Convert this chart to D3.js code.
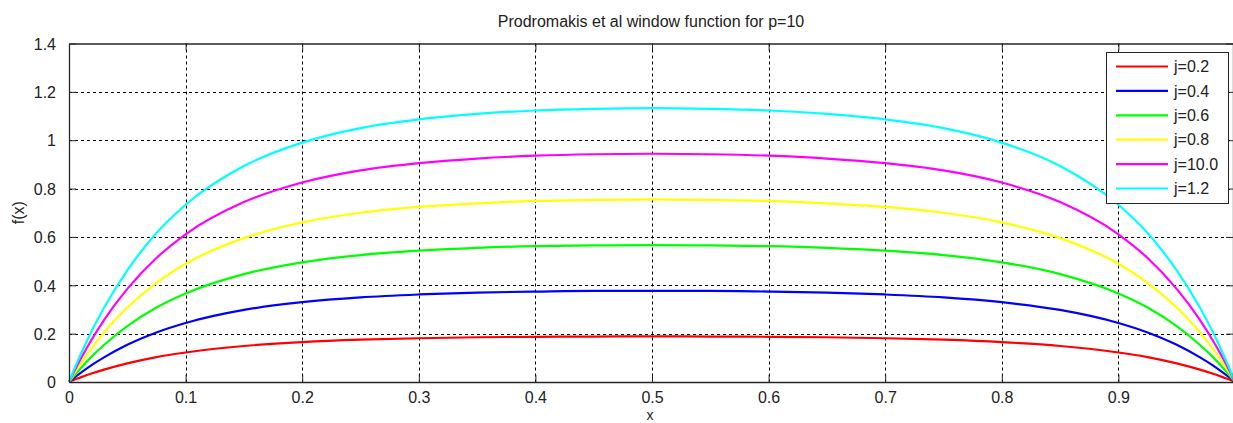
<!DOCTYPE html>
<html>
<head>
<meta charset="utf-8">
<script src="https://cdn.jsdelivr.net/npm/d3@7"></script>
<style>
  body { margin: 0; background: #fff; }
  svg { display: block; font-family: "Liberation Sans", Arial, sans-serif; }
</style>
</head>
<body>
<svg id="chart" width="1233" height="423"></svg>
<script>
// Prodromakis window function, p=10
const xs = [0, 0.005, 0.01, 0.02, 0.03, 0.05, 0.075, 0.1, 0.15, 0.2, 0.25, 0.3, 0.35, 0.4, 0.45, 0.5,
            0.55, 0.6, 0.65, 0.7, 0.75, 0.8, 0.85, 0.9, 0.925, 0.95, 0.97, 0.98, 0.99, 0.995, 1];

const j02 = [0, .010, .019, .036, .051, .077, .103, .122, .149, .165, .175, .181, .185, .187, .188, .189,
             .188, .187, .185, .181, .175, .165, .149, .122, .103, .077, .051, .036, .019, .010, 0];
const j04 = [0, .020, .038, .072, .102, .154, .205, .244, .298, .330, .350, .362, .370, .374, .377, .377,
             .377, .374, .370, .362, .350, .330, .298, .244, .205, .154, .102, .072, .038, .020, 0];
const j06 = [0, .029, .057, .108, .153, .231, .308, .366, .446, .495, .525, .543, .555, .562, .565, .566,
             .565, .562, .555, .543, .525, .495, .446, .366, .308, .231, .153, .108, .057, .029, 0];
const j08 = [0, .039, .076, .144, .205, .308, .410, .489, .595, .660, .700, .724, .739, .749, .753, .755,
             .753, .749, .739, .724, .700, .660, .595, .489, .410, .308, .205, .144, .076, .039, 0];
const j10 = [0, .049, .095, .180, .256, .385, .513, .611, .744, .825, .875, .905, .924, .936, .942, .944,
             .942, .936, .924, .905, .875, .825, .744, .611, .513, .385, .256, .180, .095, .049, 0];
const j12 = [0, .059, .114, .216, .307, .462, .616, .733, .893, .990, 1.050, 1.086, 1.109, 1.123, 1.130, 1.133,
             1.130, 1.123, 1.109, 1.086, 1.050, .990, .893, .733, .616, .462, .307, .216, .114, .059, 0];

const seriesNames = ['j=0.2', 'j=0.4', 'j=0.6', 'j=0.8', 'j=10.0', 'j=1.2'];
const seriesValues = [j02, j04, j06, j08, j10, j12];
const seriesColors = ['#ff0000', '#0000ff', '#00ff00', '#ffff00', '#ff00ff', '#00ffff'];

const xTicks = [0, 0.1, 0.2, 0.3, 0.4, 0.5, 0.6, 0.7, 0.8, 0.9];
const yTicks = [0, 0.2, 0.4, 0.6, 0.8, 1, 1.2, 1.4];

(function() {
    const svg = d3.select('#chart');
    const pl = 69, pr = 1235, pt = 43.5, pb = 382;
    const axisColor = '#262626';

    const x = d3.scaleLinear().domain([0, 1]).range([pl, pr]);
    const y = d3.scaleLinear().domain([0, 1.4]).range([pb, pt]);

    // grid
    const grid = svg.append('g');
    grid.selectAll('line.vx').data(xTicks.slice(1)).enter().append('line')
        .attr('x1', d => Math.round(x(d)) + 0.5).attr('x2', d => Math.round(x(d)) + 0.5)
        .attr('y1', pt).attr('y2', pb)
        .attr('stroke', '#000').attr('stroke-width', 1).attr('stroke-dasharray', '3,3');
    grid.selectAll('line.hy').data(yTicks.slice(1, -1)).enter().append('line')
        .attr('y1', d => Math.round(y(d)) + 0.5).attr('y2', d => Math.round(y(d)) + 0.5)
        .attr('x1', pl).attr('x2', pr)
        .attr('stroke', '#000').attr('stroke-width', 1).attr('stroke-dasharray', '3,3');

    // curves
    const line = d3.line()
        .x((d, i) => x(xs[i]))
        .y(d => y(d))
        .curve(d3.curveMonotoneX);

    svg.append('g').selectAll('path').data(seriesValues).enter().append('path')
        .attr('d', d => line(d))
        .attr('fill', 'none')
        .attr('stroke', (d, i) => seriesColors[i])
        .attr('stroke-width', 2.2);

    // axes (box with inward ticks)
    const xAxis = d3.axisBottom(x).tickValues(xTicks).tickSizeInner(-7).tickSizeOuter(0)
        .tickFormat(d3.format('~g')).tickPadding(10);
    const yAxis = d3.axisLeft(y).tickValues(yTicks).tickSizeInner(-7).tickSizeOuter(0)
        .tickFormat(d3.format('~g')).tickPadding(13);

    const gx = svg.append('g').attr('transform', `translate(0,${pb})`).call(xAxis);
    const gy = svg.append('g').attr('transform', `translate(${pl},0)`).call(yAxis);
    const gxt = svg.append('g').attr('transform', `translate(0,${pt})`)
        .call(d3.axisTop(x).tickValues(xTicks).tickSizeInner(-7).tickSizeOuter(0).tickFormat(''));
    const gyr = svg.append('g').attr('transform', `translate(${pr - 2},0)`)
        .call(d3.axisRight(y).tickValues(yTicks).tickSizeInner(-7).tickSizeOuter(0).tickFormat(''));

    [gx, gy, gxt, gyr].forEach(g => {
        g.select('.domain').attr('stroke', axisColor).attr('stroke-width', 1.3);
        g.selectAll('.tick line').attr('stroke', axisColor);
        g.selectAll('.tick text').attr('fill', '#222').attr('font-size', 16)
            .attr('font-family', '"Liberation Sans", Arial, sans-serif');
    });
    gy.selectAll('.tick text').attr('dy', '0.36em');

    // title and labels
    svg.append('text').attr('x', 651).attr('y', 27).attr('text-anchor', 'middle')
        .attr('font-size', 16).attr('fill', '#222')
        .text('Prodromakis et al window function for p=10');
    svg.append('text').attr('x', 650).attr('y', 420).attr('text-anchor', 'middle')
        .attr('font-size', 14).attr('fill', '#222').text('x');
    svg.append('text').attr('transform', `translate(24,${(pt + pb) / 2}) rotate(-90)`)
        .attr('text-anchor', 'middle').attr('font-size', 16).attr('fill', '#222').text('f(x)');

    // legend
    const lg = svg.append('g');
    lg.append('rect').attr('x', 1106.5).attr('y', 52.5).attr('width', 122).attr('height', 151)
        .attr('fill', '#fff').attr('stroke', axisColor).attr('stroke-width', 1);
    const rows = lg.selectAll('g.row').data(seriesNames).enter().append('g')
        .attr('transform', (d, i) => `translate(0,${66.5 + i * 24.4})`);
    rows.append('line').attr('x1', 1116).attr('x2', 1168).attr('y1', 0).attr('y2', 0)
        .attr('stroke', (d, i) => seriesColors[i]).attr('stroke-width', 2.2);
    rows.append('text').attr('x', 1174).attr('y', 0).attr('dy', '0.36em')
        .attr('font-size', 16).attr('fill', '#222').text(d => d);
})();
</script>
</body>
</html>
